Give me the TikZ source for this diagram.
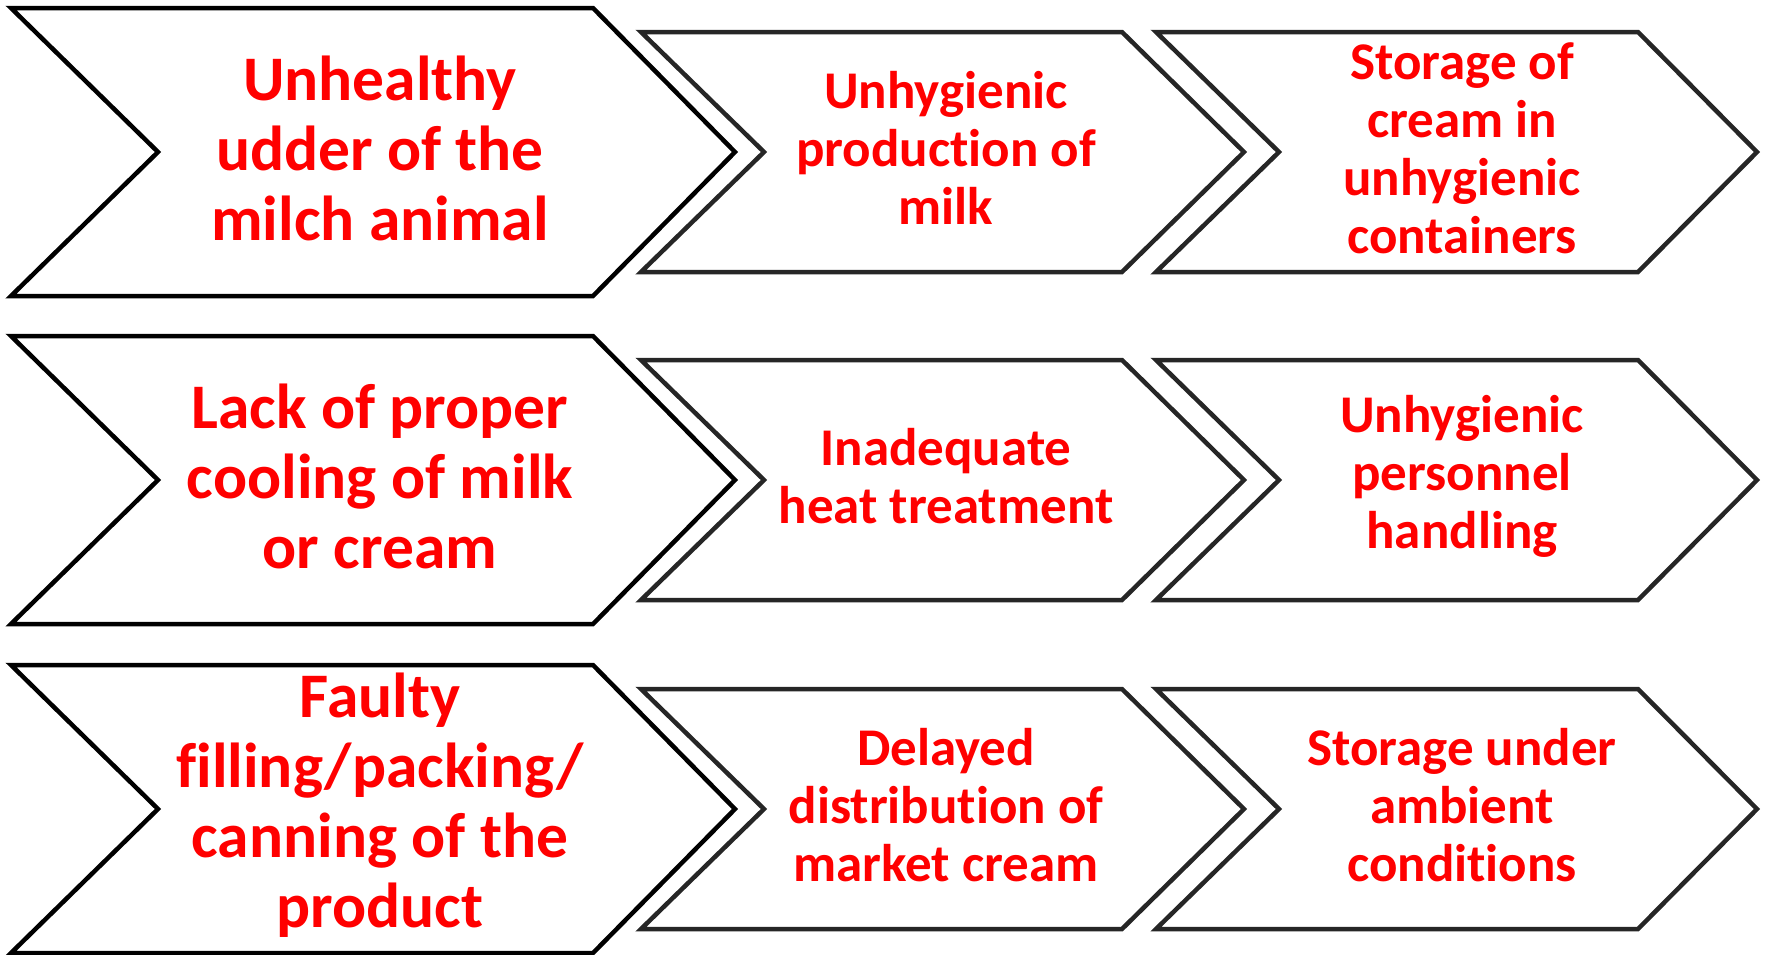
\documentclass[tikz,border=0pt]{standalone}
\usepackage{fontspec}
\setmainfont{Carlito}[Ligatures=CommonOff]

\begin{document}
\begin{tikzpicture}[x=1pt,y=-1pt,
  bigarrow/.style={draw=black,line width=4.5pt,fill=white},
  smallarrow/.style={draw=black!85,line width=4.5pt,fill=white},
  bigtext/.style={text=red,align=center,font=\bfseries\fontsize{63.5}{70}\selectfont},
  smalltext/.style={text=red,align=center,font=\bfseries\fontsize{53}{58}\selectfont}]
\useasboundingbox (0,0) rectangle (1769,954);

% row 1
\draw[bigarrow] (11,8) -- (593,8) -- (735,152) -- (593,296) -- (11,296) -- (158,152) -- cycle;
\draw[smallarrow] (641,32) -- (1122,32) -- (1244,152) -- (1122,272) -- (641,272) -- (764,152) -- cycle;
\draw[smallarrow] (1156,32) -- (1638,32) -- (1757,152) -- (1638,272) -- (1156,272) -- (1279,152) -- cycle;
\node[bigtext] (udder) at (380,148) {Unhealthy\\udder of the\\milch animal};
\node[smalltext] (production) at (946,148) {Unhygienic\\production of\\milk};
\node[smalltext] (containers) at (1462,148) {Storage of\\cream in\\unhygienic\\containers};

% row 2
\draw[bigarrow] (11,336) -- (593,336) -- (735,480) -- (593,624) -- (11,624) -- (158,480) -- cycle;
\draw[smallarrow] (641,360) -- (1122,360) -- (1244,480) -- (1122,600) -- (641,600) -- (764,480) -- cycle;
\draw[smallarrow] (1156,360) -- (1638,360) -- (1757,480) -- (1638,600) -- (1156,600) -- (1279,480) -- cycle;
\node[bigtext] (cooling) at (380,476) {Lack of proper\\cooling of milk\\or cream};
\node[smalltext] (heat) at (946,476) {Inadequate\\heat treatment};
\node[smalltext] (personnel) at (1462,476) {Unhygienic\\personnel\\handling};

% row 3
\draw[bigarrow] (11,665) -- (593,665) -- (735,809) -- (593,953) -- (11,953) -- (158,809) -- cycle;
\draw[smallarrow] (641,689) -- (1122,689) -- (1244,809) -- (1122,929) -- (641,929) -- (764,809) -- cycle;
\draw[smallarrow] (1156,689) -- (1638,689) -- (1757,809) -- (1638,929) -- (1156,929) -- (1279,809) -- cycle;
\node[bigtext] (filling) at (380,805) {Faulty\\filling/packing/\\canning of the\\product};
\node[smalltext] (distribution) at (946,805) {Delayed\\distribution of\\market cream};
\node[smalltext] (ambient) at (1462,805) {Storage under\\ambient\\conditions};
\end{tikzpicture}
\end{document}
